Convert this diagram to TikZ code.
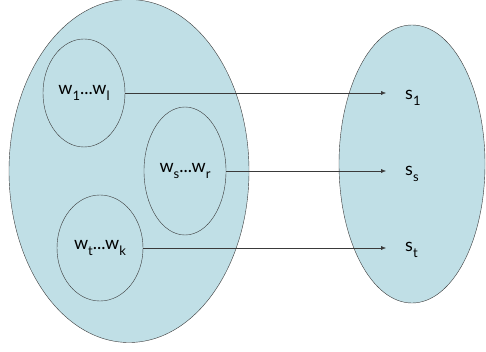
\documentclass[tikz,border=0pt]{standalone}
\usepackage{fontspec}
\setmainfont{Lato}
\usetikzlibrary{arrows.meta,positioning,shapes.geometric}
\definecolor{setBlue}{HTML}{C0DFE6}
\definecolor{edgeGray}{HTML}{3A3A3A}
\newcommand{\lowsub}[1]{\raisebox{-0.32em}{\fontsize{13}{13}\selectfont #1}}

\begin{document}
\begin{tikzpicture}[x=1pt,y=-1pt,
    setbox/.style={draw=edgeGray,ellipse,fill=setBlue,inner sep=0pt},
    subbox/.style={draw=edgeGray,ellipse,inner sep=0pt,font=\fontsize{18}{20}\selectfont},
    elem/.style={inner sep=0pt,font=\fontsize{18}{20}\selectfont},
    maparrow/.style={-{Latex[length=5pt,width=4pt]},edgeGray,shorten >=19pt}]
  \useasboundingbox (0,0) rectangle (486,352);
  % the two sets
  \node[setbox,minimum width=240pt,minimum height=343pt] (dom) at (129,171) {};
  \node[setbox,minimum width=146pt,minimum height=278pt] (cod) at (412,164) {};
  % groups of words on the left
  \node[subbox,minimum width=82pt,minimum height=108pt] (w1) at (84,93)
    {w\lowsub{1}...w\lowsub{l}};
  \node[subbox,minimum width=82pt,minimum height=128pt] (ws) at (185,171)
    {w\lowsub{s}...w\lowsub{r}};
  \node[subbox,minimum width=86pt,minimum height=106pt] (wt) at (100,248)
    {w\lowsub{t}...w\lowsub{k}};
  % images on the right
  \node[elem,anchor=west] (s1) at (405,98) {s\lowsub{1}};
  \node[elem,anchor=west] (ss) at (405,174) {s\lowsub{s}};
  \node[elem,anchor=west] (st) at (405,250) {s\lowsub{t}};
  \draw[maparrow] (w1.east) -- (w1.east -| s1.west);
  \draw[maparrow] (ws.east) -- (ws.east -| ss.west);
  \draw[maparrow] (wt.east) -- (wt.east -| st.west);
\end{tikzpicture}
\end{document}
